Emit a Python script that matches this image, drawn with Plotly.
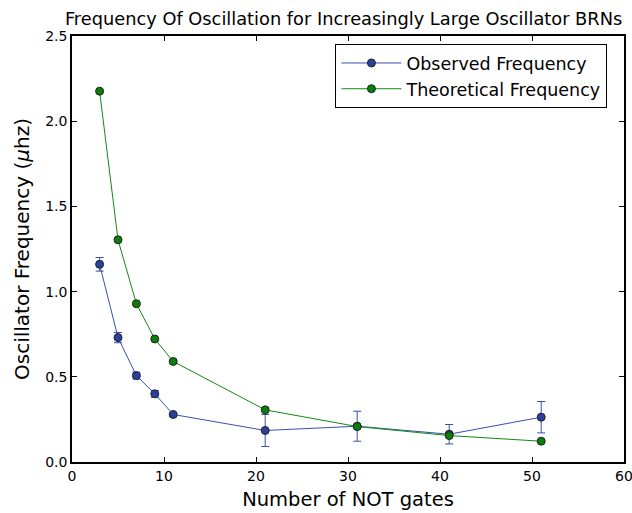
import plotly.graph_objects as go

# Ring oscillator size (number of NOT gates)
gates = [3, 5, 7, 9, 11, 21, 31, 41, 51]

# Measured oscillation frequency and its error
observed = [1.16, 0.73, 0.507, 0.40, 0.279, 0.185, 0.21, 0.163, 0.263]
observed_err = [0.04, 0.03, 0.02, 0.02, 0.01, 0.094, 0.088, 0.057, 0.092]

# Predicted oscillation frequency
theoretical = [2.176, 1.304, 0.929, 0.722, 0.59, 0.306, 0.208, 0.155, 0.122]

x_ticks = [0, 10, 20, 30, 40, 50, 60]
y_ticks = [0.0, 0.5, 1.0, 1.5, 2.0, 2.5]

FONT = "DejaVu Sans"
BLUE_LINE = "#3a4fb0"
BLUE_MARK = "#2b3f9e"
GREEN_LINE = "#138a13"
GREEN_MARK = "#0a7d0a"

fig = go.Figure()

fig.add_trace(go.Scatter(
    x=gates, y=observed, mode="lines+markers", name="Observed Frequency",
    line=dict(color=BLUE_LINE, width=1),
    marker=dict(color=BLUE_MARK, size=8, line=dict(color="#222222", width=1)),
    error_y=dict(type="data", array=observed_err, visible=True,
                 color=BLUE_LINE, thickness=1, width=4),
))

fig.add_trace(go.Scatter(
    x=gates, y=theoretical, mode="lines+markers", name="Theoretical Frequency",
    line=dict(color=GREEN_LINE, width=1),
    marker=dict(color=GREEN_MARK, size=8, line=dict(color="#222222", width=1)),
))

axis_common = dict(
    showgrid=False, zeroline=False, showline=True, linecolor="black",
    linewidth=1.5, mirror="allticks", ticks="inside", ticklen=5,
    tickcolor="black", tickwidth=1, ticklabeloverflow="allow",
    automargin=False,
    tickfont=dict(family=FONT, size=14, color="black"),
)

fig.update_layout(
    width=632, height=513,
    margin=dict(l=72, r=8, t=36, b=51),
    paper_bgcolor="white", plot_bgcolor="white",
    font=dict(family=FONT, color="black"),
    title=dict(
        text="Frequency Of Oscillation for Increasingly Large Oscillator BRNs",
        xref="paper", x=0.492, xanchor="center",
        yref="container", y=0.963, yanchor="middle",
        font=dict(family=FONT, size=17.8, color="black"),
    ),
    xaxis=dict(
        range=[0, 60], tickvals=x_ticks, ticktext=[str(v) for v in x_ticks],
        title=dict(text="Number of NOT gates", standoff=10,
                   font=dict(family=FONT, size=19.5, color="black")),
        **axis_common,
    ),
    yaxis=dict(
        range=[0, 2.5], tickvals=y_ticks, ticktext=[f"{v:.1f}" for v in y_ticks],
        title=dict(text="Oscillator Frequency (<i>μ</i>hz)", standoff=10,
                   font=dict(family=FONT, size=20, color="black")),
        **axis_common,
    ),
    legend=dict(
        x=0.97, y=0.981, xanchor="right", yanchor="top",
        bgcolor="white", bordercolor="black", borderwidth=1,
        font=dict(family=FONT, size=17.5, color="black"),
        itemwidth=60, tracegroupgap=0,
    ),
    showlegend=True,
)

fig.write_html("out.html")
